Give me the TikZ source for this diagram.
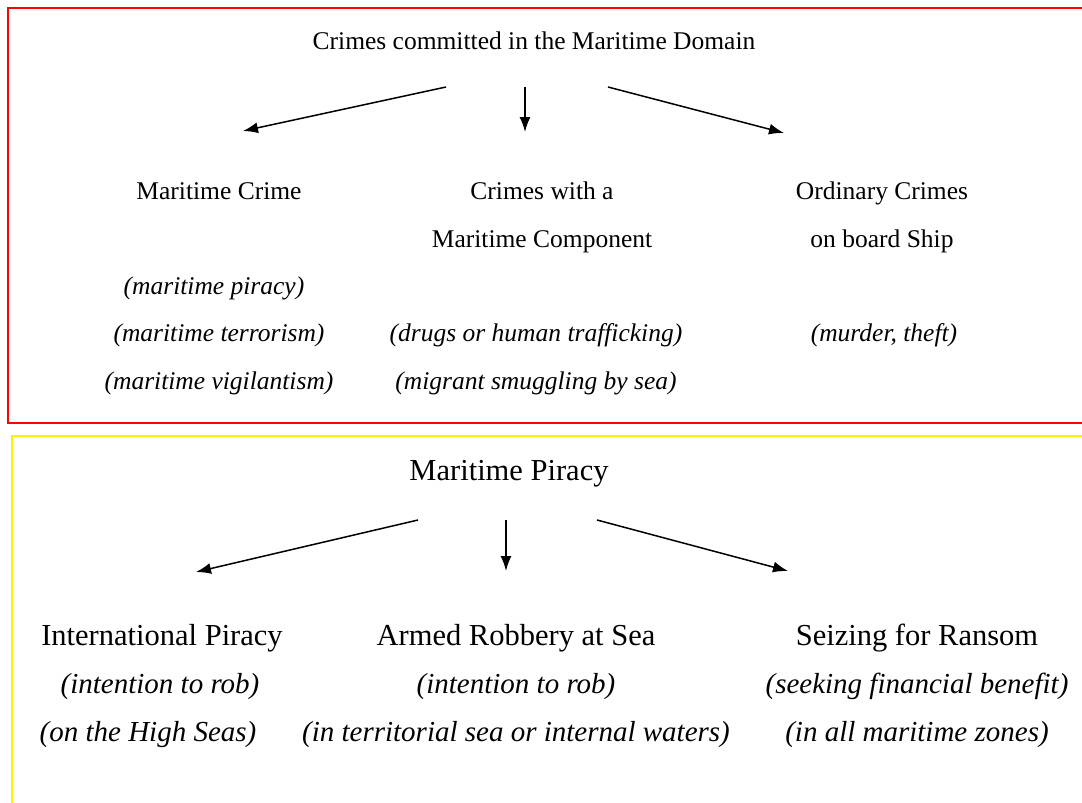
\documentclass[tikz,border=0pt]{standalone}
\usepackage{fontspec}
\setmainfont{Liberation Serif}
\usetikzlibrary{arrows.meta}

\begin{document}
\begin{tikzpicture}[x=1pt,y=-1pt,
        label/.style={font=\fontsize{25.5}{30}\selectfont,inner sep=0pt,text height=18pt,text depth=6pt,yshift=-3pt},
        note/.style={label,font=\fontsize{25.5}{30}\selectfont\itshape},
        biglabel/.style={label,font=\fontsize{30.5}{36}\selectfont,yshift=-1.5pt},
        bignote/.style={label,font=\fontsize{29}{35}\selectfont\itshape,yshift=-1pt},
        branch/.style={line width=1.5pt,-{Latex[length=15pt,width=11pt]}}
    ]
    \useasboundingbox (0,0) rectangle (1082,803);

    % frames
    \draw[red,line width=2pt] (1082,8) -- (8,8) -- (8,423) -- (1082,423);
    \draw[yellow,line width=2pt] (1082,436) -- (12,436) -- (12,803);

    % crimes in the maritime domain
    \node[label] (domain) at (534,40) {Crimes committed in the Maritime Domain};
    \coordinate (d1) at (446,87);
    \coordinate (d2) at (525,87);
    \coordinate (d3) at (608,87);
    \coordinate (c1) at (243,131);
    \coordinate (c2) at (525,132);
    \coordinate (c3) at (784,133);
    \foreach \i in {1,2,3} {
        \draw[branch] (d\i) -- (c\i);
    }

    \node[label] (mcrime) at (219,190) {Maritime Crime};
    \node[label] (comp1) at (542,190) {Crimes with a};
    \node[label] (comp2) at (542,238) {Maritime Component};
    \node[label] (ord1) at (882,190) {Ordinary Crimes};
    \node[label] (ord2) at (882,238) {on board Ship};

    \node[note] (piracy) at (214,285) {(maritime piracy)};
    \node[note] (terror) at (219,332) {(maritime terrorism)};
    \node[note] (vigil) at (219,380) {(maritime vigilantism)};
    \node[note] (drugs) at (536,332) {(drugs or human trafficking)};
    \node[note] (migrant) at (536,380) {(migrant smuggling by sea)};
    \node[note] (murder) at (884,332) {(murder, theft)};

    % maritime piracy
    \node[biglabel] (mpiracy) at (509,470) {Maritime Piracy};
    \coordinate (p1) at (418,520);
    \coordinate (p2) at (506,520);
    \coordinate (p3) at (597,520);
    \coordinate (q1) at (196,572);
    \coordinate (q2) at (506,571);
    \coordinate (q3) at (788,571);
    \foreach \i in {1,2,3} {
        \draw[branch] (p\i) -- (q\i);
    }

    \node[biglabel] (intl) at (162,635) {International Piracy};
    \node[bignote] (intl1) at (160,683) {(intention to rob)};
    \node[bignote] (intl2) at (148,731) {(on the High Seas)};

    \node[biglabel] (armed) at (516,635) {Armed Robbery at Sea};
    \node[bignote] (armed1) at (516,683) {(intention to rob)};
    \node[bignote] (armed2) at (516,731) {(in territorial sea or internal waters)};

    \node[biglabel] (ransom) at (917,635) {Seizing for Ransom};
    \node[bignote] (ransom1) at (917,683) {(seeking financial benefit)};
    \node[bignote] (ransom2) at (917,731) {(in all maritime zones)};
\end{tikzpicture}
\end{document}
